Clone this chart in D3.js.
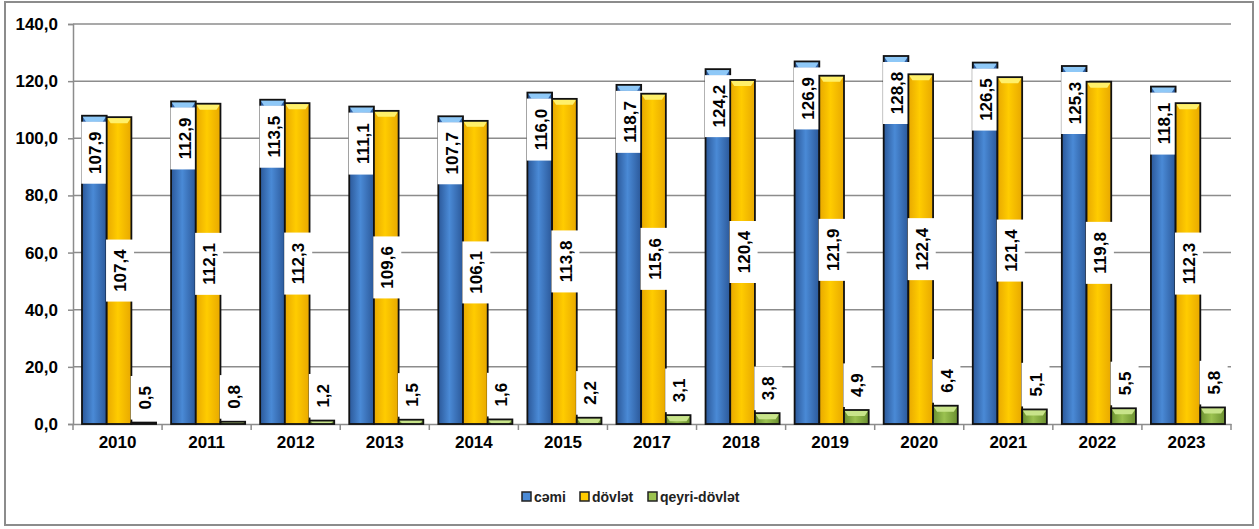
<!DOCTYPE html>
<html>
<head>
<meta charset="utf-8">
<script src="https://cdn.jsdelivr.net/npm/d3@7"></script>
<style>
  body { margin: 0; background: #fff; }
  svg { display: block; font-family: "Liberation Sans", Arial, sans-serif; }
</style>
</head>
<body>
<svg id="canvas" width="1259" height="529"></svg>
<script>
let years = ["2010", "2011", "2012", "2013", "2014", "2015", "2017", "2018", "2019", "2020", "2021", "2022", "2023"];
let cemi = [107.9, 112.9, 113.5, 111.1, 107.7, 116.0, 118.7, 124.2, 126.9, 128.8, 126.5, 125.3, 118.1];
let dovlet = [107.4, 112.1, 112.3, 109.6, 106.1, 113.8, 115.6, 120.4, 121.9, 122.4, 121.4, 119.8, 112.3];
let qeyri = [0.5, 0.8, 1.2, 1.5, 1.6, 2.2, 3.1, 3.8, 4.9, 6.4, 5.1, 5.5, 5.8];
let seriesNames = ["cəmi", "dövlət", "qeyri-dövlət"];
let yTicks = [0, 20, 40, 60, 80, 100, 120, 140];

let canvas = d3.select("#canvas");
let margin = { left: 73, right: 1231, top: 24, bottom: 424 };

//Colours for each series: dark edge, middle, top cap
let colors = [
    { edge: "#2b5899", mid: "#4a8ad6", cap: "#8ec8f7" },
    { edge: "#e8a800", mid: "#ffcc00", cap: "#fff06a" },
    { edge: "#6a8f30", mid: "#9bc250", cap: "#c8e48a" }
];

let fmt = (v) => v.toFixed(1).replace(".", ",");

//Scales
let x0 = d3.scaleBand().domain(years).range([margin.left, margin.right]);
let x1 = d3.scaleBand().domain([0, 1, 2]).range([9, x0.bandwidth() - 6]);
let y = d3.scaleLinear().domain([0, 140]).range([margin.bottom, margin.top]);

//Gradients
let defs = canvas.append("defs");
colors.forEach((c, i) => {
    let g = defs.append("linearGradient").attr("id", "grad" + i)
        .attr("x1", "0%").attr("x2", "100%").attr("y1", "0%").attr("y2", "0%");
    g.append("stop").attr("offset", "0%").attr("stop-color", c.edge);
    g.append("stop").attr("offset", "45%").attr("stop-color", c.mid);
    g.append("stop").attr("offset", "100%").attr("stop-color", c.edge);
});

//Outer frame
canvas.append("rect")
    .attr("x", 5).attr("y", 2).attr("width", 1248).attr("height", 523)
    .attr("fill", "white").attr("stroke", "#8c8c8c").attr("stroke-width", 2);

//Gridlines
canvas.append("g")
    .selectAll("line")
    .data(yTicks.slice(1))
    .join("line")
    .attr("x1", margin.left).attr("x2", margin.right)
    .attr("y1", (d) => y(d)).attr("y2", (d) => y(d))
    .attr("stroke", "#8c8c8c").attr("stroke-width", 1.5);

//Y axis
let yAxis = canvas.append("g")
    .attr("transform", "translate(" + margin.left + ",0)")
    .call(d3.axisLeft(y).tickValues(yTicks).tickFormat(fmt).tickSize(5).tickPadding(10));
yAxis.select(".domain").attr("stroke", "#8c8c8c").attr("stroke-width", 1.5);
yAxis.selectAll(".tick line").attr("stroke", "#8c8c8c").attr("stroke-width", 1.5);
yAxis.selectAll("text").attr("font-size", 17).attr("font-weight", "bold").attr("fill", "#000");

//X axis
let xAxis = canvas.append("g")
    .attr("transform", "translate(0," + margin.bottom + ")")
    .call(d3.axisBottom(x0).tickSize(0).tickPadding(12));
xAxis.select(".domain").attr("stroke", "#8c8c8c").attr("stroke-width", 1.5);
xAxis.selectAll("text").attr("font-size", 17).attr("font-weight", "bold").attr("fill", "#000");
xAxis.selectAll(".sep")
    .data(years.map((d) => x0(d)).concat([margin.right]))
    .join("line")
    .attr("x1", (d) => d).attr("x2", (d) => d)
    .attr("y1", 0).attr("y2", 6)
    .attr("stroke", "#8c8c8c").attr("stroke-width", 1.5);

//Bars
let rows = years.map((yr, i) => ({ year: yr, vals: [cemi[i], dovlet[i], qeyri[i]] }));
let groups = canvas.append("g").selectAll("g")
    .data(rows)
    .join("g")
    .attr("transform", (d) => "translate(" + x0(d.year) + ",0)");

let bw = x1.bandwidth();
let bars = groups.selectAll("g.bar")
    .data((d) => d.vals.map((v, k) => ({ v: v, k: k })))
    .join("g").attr("class", "bar");

bars.append("rect")
    .attr("x", (d) => x1(d.k))
    .attr("y", (d) => y(d.v))
    .attr("width", bw)
    .attr("height", (d) => y(0) - y(d.v))
    .attr("fill", (d) => "url(#grad" + d.k + ")");

//Top caps (bevel)
bars.append("path")
    .attr("d", (d) => {
        let xa = x1(d.k), xb = xa + bw, yt = y(d.v);
        let h = Math.min(6, y(0) - yt);
        return "M" + xa + "," + yt + "L" + xb + "," + yt + "L" + (xb - 4) + "," + (yt + h) +
            "L" + (xa + 4) + "," + (yt + h) + "Z";
    })
    .attr("fill", (d) => colors[d.k].cap);

bars.append("rect")
    .attr("x", (d) => x1(d.k))
    .attr("y", (d) => y(d.v))
    .attr("width", bw)
    .attr("height", (d) => y(0) - y(d.v))
    .attr("fill", "none")
    .attr("stroke", "#111").attr("stroke-width", 1.8);

//Data labels
let labelLen = (v) => fmt(v).length * 9.2 + 16;
let labels = bars.append("g")
    .attr("transform", (d) => {
        let cx = x1(d.k) + bw / 2;
        let len = labelLen(d.v);
        let cy;
        if (d.k === 0) cy = y(d.v) + 6 + len / 2;
        else if (d.k === 1) cy = (y(d.v) + y(0)) / 2;
        else cy = y(d.v) - 3 - len / 2;
        return "translate(" + (cx + 1) + "," + cy + ")";
    });
labels.append("rect")
    .attr("x", (d) => -labelLen(d.v) / 2)
    .attr("y", -14)
    .attr("width", (d) => labelLen(d.v))
    .attr("height", 28)
    .attr("transform", "rotate(-90)")
    .attr("fill", "white");
labels.append("text")
    .attr("transform", "rotate(-90)")
    .attr("text-anchor", "middle")
    .attr("dy", "0.36em")
    .attr("font-size", 17).attr("font-weight", "bold")
    .text((d) => fmt(d.v));

//Legend
let legend = canvas.append("g").attr("transform", "translate(0,497)");
let legX = [522, 580, 648];
seriesNames.forEach((name, i) => {
    legend.append("rect")
        .attr("x", legX[i]).attr("y", -5).attr("width", 9).attr("height", 9)
        .attr("fill", colors[i].mid).attr("stroke", "#222").attr("stroke-width", 1.5);
    legend.append("text")
        .attr("x", legX[i] + 12).attr("y", 0).attr("dy", "0.35em")
        .attr("font-size", 14).attr("font-weight", "bold").attr("fill", "#222")
        .text(name);
});
</script>
</body>
</html>
